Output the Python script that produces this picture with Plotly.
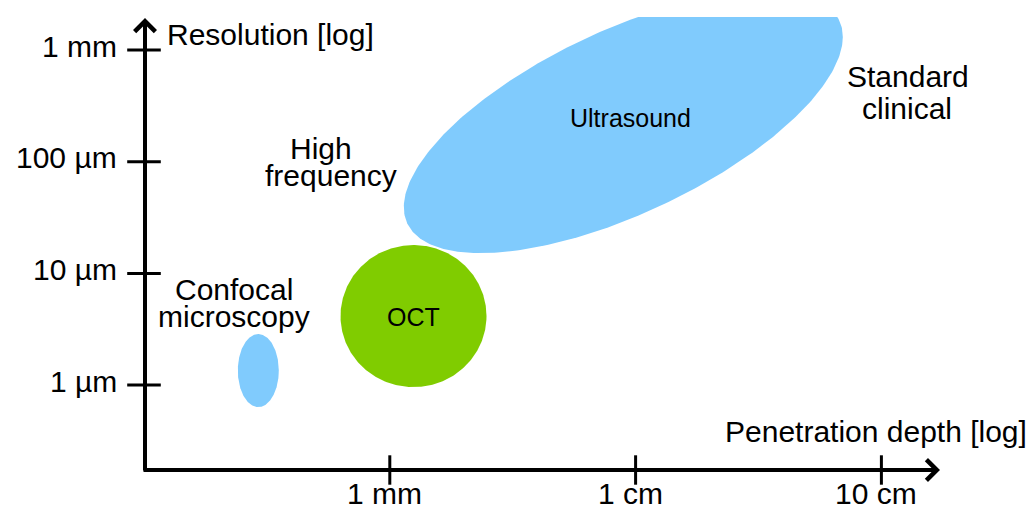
import numpy as np
import plotly.graph_objects as go

# ---------------- data (log10 units: x in log10(mm), y in log10(um)) ----------------
x_tick_vals = [0, 1, 2]
x_tick_text = ["1 mm", "1 cm", "10 cm"]
y_tick_vals = [0, 1, 2, 3]
y_tick_text = ["1 \u00b5m", "10 \u00b5m", "100 \u00b5m", "1 mm"]

modalities = ["Confocal", "OCT", "Ultrasound"]
center_x = [-0.535, 0.0964, 0.950]
center_y = [0.130, 0.618, 2.355]
half_width = [0.0834, 0.297, 0.893]
half_height = [0.327, 0.636, 1.173]
tilt_deg = [90.0, 90.0, 49.5]   # phase between x and y (90 = axis aligned)
inner_labels = ["", "OCT", "Ultrasound"]

BLUE = "#80CBFD"
GREEN = "#80CC00"
colors = [BLUE, GREEN, BLUE]

# ---------------- layout geometry ----------------
W, H = 1034, 509
L, R, T, B = 144, 94, 17, 39
PW, PH = W - L - R, H - T - B
XPX, YPX = 245.8, 111.7  # px per decade
x_range = [-1.0, -1.0 + PW / XPX]
y_range = [-0.76, -0.76 + PH / YPX]

FONT = "Liberation Sans, Arial, sans-serif"


def paper(xpx, ypx):
    return (xpx - L) / PW, (H - B - ypx) / PH


fig = go.Figure()

# ellipses (OCT under ultrasound)
t = np.linspace(0, 2 * np.pi, 361)
for i in [0, 1, 2]:
    phi = np.deg2rad(tilt_deg[i])
    ex = center_x[i] + half_width[i] * np.cos(t)
    ey = center_y[i] + half_height[i] * np.cos(t - phi)
    fig.add_trace(go.Scatter(x=ex, y=ey, mode="lines", fill="toself",
                             fillcolor=colors[i], line=dict(width=0, color=colors[i]),
                             hoverinfo="skip", showlegend=False))

# tick marks crossing the axes
fig.add_trace(go.Scatter(x=x_tick_vals, y=[y_range[0]] * len(x_tick_vals), mode="markers",
                         marker=dict(symbol="line-ns", size=21, line=dict(width=3, color="black")),
                         cliponaxis=False, hoverinfo="skip", showlegend=False))
fig.add_trace(go.Scatter(x=[x_range[0]] * len(y_tick_vals), y=y_tick_vals, mode="markers",
                         marker=dict(symbol="line-ew", size=24, line=dict(width=3, color="black")),
                         cliponaxis=False, hoverinfo="skip", showlegend=False))

ann = []
# axis arrows
hx, hy = paper(940, 470)
ann.append(dict(x=hx, y=hy, xref="paper", yref="paper", ax=-(940 - 142), ay=0,
                axref="pixel", ayref="pixel", text="", showarrow=True,
                arrowhead=4, arrowsize=1.0, arrowwidth=4, arrowcolor="black", standoff=0))
hx, hy = paper(145, 18)
ann.append(dict(x=hx, y=hy, xref="paper", yref="paper", ax=0, ay=(472 - 18),
                axref="pixel", ayref="pixel", text="", showarrow=True,
                arrowhead=4, arrowsize=1.0, arrowwidth=4, arrowcolor="black", standoff=0))

# tick labels
for v, s in zip(x_tick_vals, x_tick_text):
    ann.append(dict(x=v, y=0, xref="x", yref="paper", text=s, showarrow=False,
                    xanchor="center", yanchor="middle", xshift=-5, yshift=-(493 - 470),
                    font=dict(family=FONT, size=30, color="black")))
for v, s in zip(y_tick_vals, y_tick_text):
    ann.append(dict(x=0, y=v, xref="paper", yref="y", text=s, showarrow=False,
                    xanchor="right", yanchor="middle", xshift=-(L - 119), yshift=4,
                    font=dict(family=FONT, size=30, color="black")))

# text labels: (text, xpx, ypx, xanchor, size)
labels = [
    ("Resolution [log]", 165, 35, "left", 30),
    ("Penetration depth [log]", 1029, 431, "right", 30),
    ("Standard", 908, 76, "center", 30),
    ("clinical", 907, 108, "center", 30),
    ("High", 321, 148, "center", 30),
    ("frequency", 331, 175, "center", 30),
    ("Confocal", 234, 289, "center", 30),
    ("microscopy", 234, 316, "center", 30),
]
for s, xp, yp, xa, sz in labels:
    px_, py_ = paper(xp, yp)
    ann.append(dict(x=px_, y=py_, xref="paper", yref="paper", text=s, showarrow=False,
                    xanchor=xa, yanchor="middle",
                    font=dict(family=FONT, size=sz, color="black")))

# labels inside ellipses
inner_pos = [None, (413.5, 317), (630, 118)]
for i, s in enumerate(inner_labels):
    if not s:
        continue
    px_, py_ = paper(*inner_pos[i])
    ann.append(dict(x=px_, y=py_, xref="paper", yref="paper", text=s, showarrow=False,
                    xanchor="center", yanchor="middle",
                    font=dict(family=FONT, size=25, color="black")))

fig.update_layout(
    width=W, height=H,
    margin=dict(l=L, r=R, t=T, b=B, pad=0),
    paper_bgcolor="white", plot_bgcolor="white",
    xaxis=dict(range=x_range, visible=False, fixedrange=True),
    yaxis=dict(range=y_range, visible=False, fixedrange=True),
    annotations=ann,
    showlegend=False,
)

fig.write_html("out.html", config={"displayModeBar": False},
               post_script="document.body.style.margin='0';document.body.style.overflow='hidden';")
